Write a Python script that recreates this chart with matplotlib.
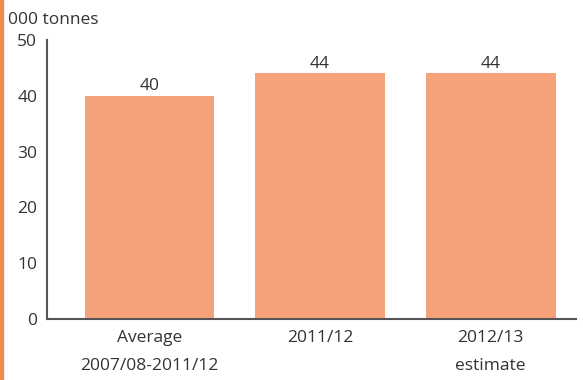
import matplotlib.pyplot as plt
from matplotlib.patches import Rectangle

categories = ['Average\n2007/08-2011/12', '2011/12', '2012/13\nestimate']
values = [40, 44, 44]
y_ticks = [0, 10, 20, 30, 40, 50]

bar_color = '#F5A27B'
text_color = '#333333'

plt.rcParams['font.family'] = ['Open Sans', 'DejaVu Sans']

fig = plt.figure(figsize=(5.83, 3.80), dpi=100)
ax = fig.add_axes([0.0806, 0.1605, 0.988 - 0.0806, 0.8947 - 0.1605])

x = list(range(len(categories)))
bars = ax.bar(x, values, width=0.76, color=bar_color)
for xi, v in zip(x, values):
    ax.text(xi, v + 0.3, str(v), ha='center', va='bottom', fontsize=12.5, color=text_color)

ax.set_xlim(-0.60, 2.50)
ax.set_ylim(0, 50)
ax.set_yticks(y_ticks)
ax.set_xticks(x)
ax.set_xticklabels(categories, linespacing=1.95)
ax.tick_params(length=0, labelsize=12.5, colors=text_color)
ax.tick_params(axis='y', pad=7)
ax.tick_params(axis='x', pad=8)

for side in ['top', 'right']:
    ax.spines[side].set_visible(False)
for side in ['left', 'bottom']:
    ax.spines[side].set_color('#555555')
    ax.spines[side].set_linewidth(1.5)

fig.text(0.014, 0.948, '000 tonnes', fontsize=12.5, color=text_color, va='center')

# orange strip on the left edge
fig.patches.append(Rectangle((0, 0), 3 / 583, 1, transform=fig.transFigure,
                             color='#F08A4B', zorder=5))

fig.savefig('out.png', dpi=100)
